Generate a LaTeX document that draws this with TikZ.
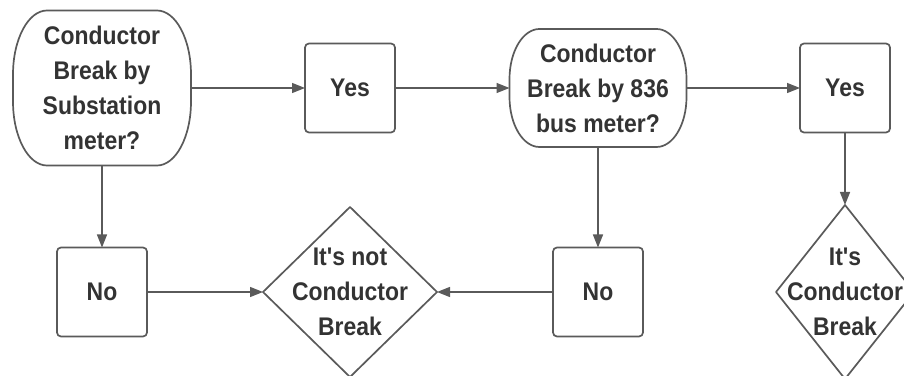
\documentclass[tikz,border=0pt]{standalone}
\usepackage{fontspec}
\usetikzlibrary{calc,shapes.geometric,arrows.meta}
\newfontfamily\lab[FakeStretch=0.9]{Liberation Sans}
\definecolor{edge}{HTML}{5A5A5A}
\definecolor{ink}{HTML}{333333}
\tikzset{
  line/.style={draw=edge, line width=1.7pt, line join=round},
  conn/.style={draw=edge, line width=1.4pt, -{Triangle[length=13pt,width=10pt]}},
  txt/.style={align=center, inner sep=0pt, text=ink, font=\lab\bfseries\fontsize{25.5}{35}\selectfont},
  box/.style={line, rounded corners=4pt, inner sep=0pt, outer sep=0pt, minimum width=90pt, minimum height=89pt},
  hold/.style={draw=none, inner sep=0pt, outer sep=0pt},
  dia/.style={line, diamond, inner sep=0pt, outer sep=0pt},
}
\newcommand\termshape[3]{%
  \draw[line] ($(#1.north west)+(#2,0)$) -- ($(#1.north east)-(#2,0)$)
    arc[start angle=90,end angle=0,x radius=#2,y radius=#3]
    -- ($(#1.south east)+(0,#3)$)
    arc[start angle=0,end angle=-90,x radius=#2,y radius=#3]
    -- ($(#1.south west)+(#2,0)$)
    arc[start angle=270,end angle=180,x radius=#2,y radius=#3]
    -- ($(#1.north west)-(0,#3)$)
    arc[start angle=180,end angle=90,x radius=#2,y radius=#3] -- cycle;}
\begin{document}
\begin{tikzpicture}[x=1pt,y=1pt]
\useasboundingbox (0,0) rectangle (904,375);
\clip (0,0) rectangle (904,375);
\fill[white] (0,0) rectangle (904,375);
% terminals
\node[hold, minimum width=178pt, minimum height=155pt] (n1) at (102,287) {};
\termshape{n1}{34}{64}
\node[txt] at (n1) {Conductor\\Break by\\Substation\\meter?};
\node[hold, minimum width=177pt, minimum height=118pt] (n2) at (598,287) {};
\termshape{n2}{30}{50}
\node[txt] at (n2) {Conductor\\Break by 836\\bus meter?};
% boxes
\node[box] (y1) at (350,287) {};
\node[txt] at (y1) {Yes};
\node[box] (y2) at (845,287) {};
\node[txt] at (y2) {Yes};
\node[box] (no1) at (102,83) {};
\node[txt] at (no1) {No};
\node[box] (no2) at (598,83) {};
\node[txt] at (no2) {No};
% diamonds
\node[dia, minimum width=174pt, minimum height=170pt] (d1) at (350,83) {};
\node[txt] at (d1) {It's not\\Conductor\\Break};
\node[dia, minimum width=138pt, minimum height=174pt] (d2) at (845,83) {};
\node[txt] at (d2) {It's\\Conductor\\Break};
% connectors
\draw[conn] (n1.east) -- (y1.west);
\draw[conn] (y1.east) -- (n2.west);
\draw[conn] (n2.east) -- (y2.west);
\draw[conn] (y2.south) -- (d2.north);
\draw[conn] (n1.south) -- (no1.north);
\draw[conn] (n2.south) -- (no2.north);
\draw[conn] (no1.east) -- (d1.west);
\draw[conn] (no2.west) -- (d1.east);
\end{tikzpicture}
\end{document}
